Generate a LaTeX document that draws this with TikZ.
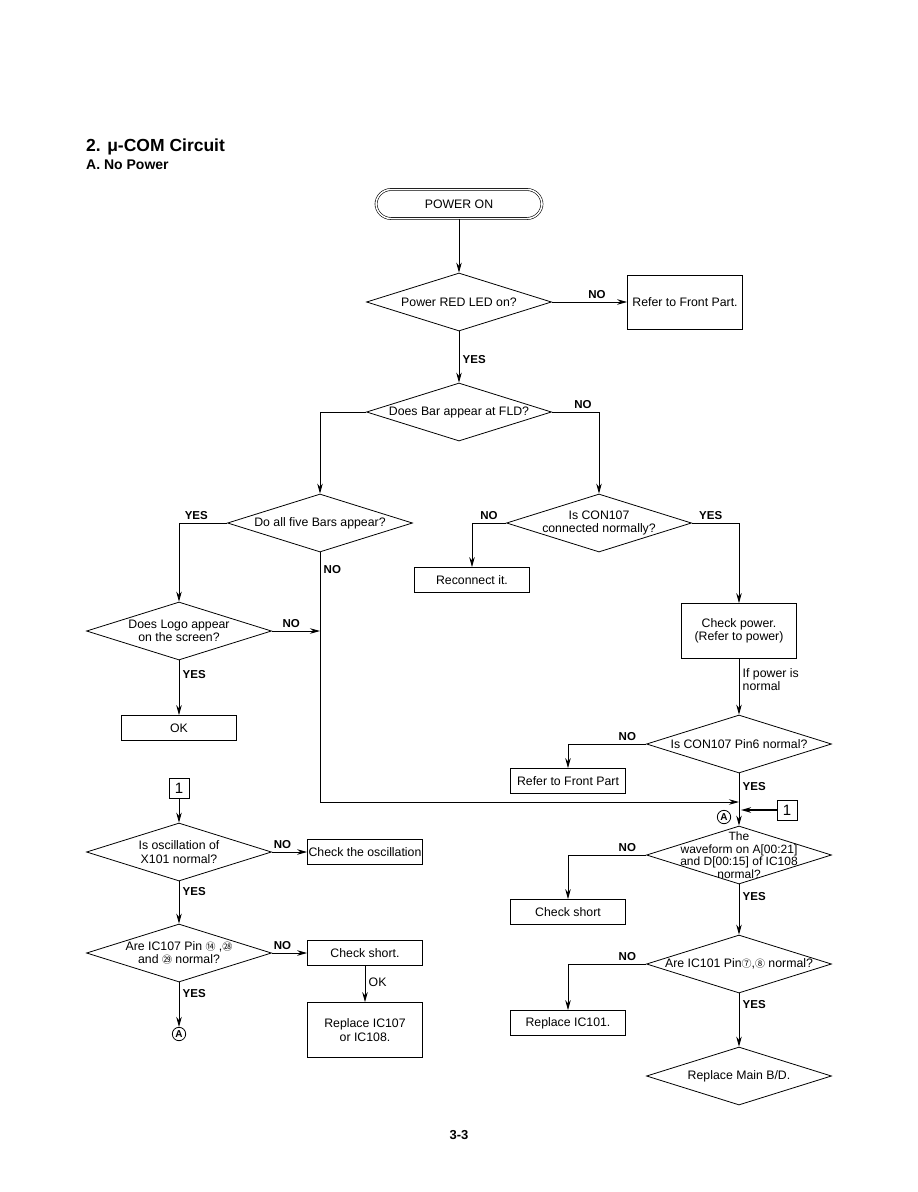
\documentclass[tikz,border=0pt]{standalone}
\usepackage{fontspec}
\setmainfont{Liberation Sans}
\newfontfamily\cjk{Noto Sans CJK JP}
\usetikzlibrary{shapes.geometric,arrows.meta}
\newcommand{\cn}[1]{{\cjk\fontsize{10}{11}\selectfont #1}}
\begin{document}
\begin{tikzpicture}[x=1pt,y=-1pt,
  every node/.style={font=\fontsize{12.3}{13.5}\selectfont},
  box/.style={draw,rectangle,line width=0.8pt,inner sep=0pt,minimum width=115,minimum height=25,align=center},
  dia/.style={draw,diamond,line width=0.8pt,inner sep=0pt,minimum width=185,minimum height=58},
  lab/.style={font=\bfseries\fontsize{11.5}{13}\selectfont},
  arr/.style={-{Stealth[length=10pt,width=5.5pt]}},
  ln/.style={line width=0.8pt},
  numbox/.style={draw,rectangle,line width=1pt,minimum width=20,minimum height=20,inner sep=0pt,font=\fontsize{15}{16}\selectfont},
  circA/.style={draw,circle,line width=0.8pt,inner sep=1.2pt,font=\bfseries\fontsize{10}{11}\selectfont}]
\useasboundingbox (0,0) rectangle (918,1192);
% titles
\node[anchor=base west,font=\bfseries\fontsize{17.5}{20}\selectfont,inner sep=0] (title) at (86,151) {2. μ-COM Circuit};
\node[anchor=base west,font=\bfseries\fontsize{14}{16}\selectfont,inner sep=0] (sub) at (86,169) {A. No Power};
% top
\node[draw,rectangle,rounded corners=15pt,double,double distance=1.5pt,line width=0.6pt,minimum width=166,minimum height=29,inner sep=0] (pon) at (459,204) {POWER ON};
\node[dia,label=center:{Power RED LED on?}] (d1) at (459,302) {};
\node[box,minimum height=54] (r1) at (685,302) {Refer to Front Part.};
\node[dia,label=center:{Does Bar appear at FLD?}] (d2) at (459,412) {};
\node[dia,label=center:{Do all five Bars appear?}] (d3) at (320,523) {};
\node[dia,label={[align=center]center:{Is CON107\\connected normally?}}] (d4) at (599,523) {};
\node[box] (rc) at (472,580) {Reconnect it.};
\node[box,minimum height=55] (cp) at (739,631) {Check power.\\(Refer to power)};
\node[dia,label={[align=center]center:{Does Logo appear\\on the screen?}}] (d5) at (179,631) {};
\node[box] (ok) at (179,728) {OK};
\node[dia,label=center:{Is CON107 Pin6 normal?}] (d6) at (739,744) {};
\node[box] (rf2) at (568,781) {Refer to Front Part};
\coordinate (c1) at (320,802);
\coordinate (j) at (739,802);
\coordinate (c2) at (320,631);
\node[numbox] (one2) at (787,810) {1};
\coordinate (j2) at (741,810);
\node[circA] (A1) at (724,817) {A};
\node[dia,label={[align=center,font=\fontsize{12}{12.5}\selectfont]center:{The\\waveform on A[00:21]\\and D[00:15] of IC108\\normal?}}] (d7) at (739,855) {};
\node[box] (cs2) at (568,912) {Check short};
\node[dia,label=center:{Are IC101 Pin\cn{⑦},\cn{⑧}\ normal?}] (d8) at (739,964) {};
\node[box] (ric) at (568,1023) {Replace IC101.};
\node[dia,label=center:{Replace Main B/D.}] (d9) at (739,1076) {};
% left bottom
\node[numbox] (one1) at (179,788) {1};
\node[dia,label={[align=center]center:{Is oscillation of\\X101 normal?}}] (d10) at (179,852) {};
\node[box] (osc) at (365,852) {Check the oscillation};
\node[dia,label={[align=center]center:{Are IC107 Pin \cn{⑭} ,\cn{㉘}\\and \cn{㉙} normal?}}] (d11) at (179,953) {};
\node[box] (cs1) at (365,953) {Check short.};
\node[box,minimum height=55] (rep) at (365,1030) {Replace IC107\\or IC108.};
\node[circA] (A2) at (179,1034) {A};
\node[font=\bfseries\fontsize{13}{15}\selectfont] (pg) at (459,1135) {3-3};
% connectors
\draw[ln,arr] (pon) -- (d1);
\draw[ln,arr] (d1.east) -- node[lab,above,pos=0.6]{NO} (r1.west);
\draw[ln,arr] (d1.south) -- node[lab,right,pos=0.55]{YES} (d2.north);
\draw[ln,arr] (d2.west) -| (d3.north);
\draw[ln,arr] (d2.east) -| node[lab,above,pos=0.33]{NO} (d4.north);
\draw[ln,arr] (d3.west) -| node[lab,above,pos=0.32]{YES} (d5.north);
\draw[ln,arr] (d3.south) -- node[lab,right,pos=0.07]{NO} (c1) -- (j);
\draw[ln,arr] (d5.east) -- node[lab,above,pos=0.4]{NO} (c2);
\draw[ln,arr] (d5.south) -- node[lab,right,pos=0.25]{YES} (ok.north);
\draw[ln,arr] (d4.west) -| node[lab,above,pos=0.25]{NO} (rc.north);
\draw[ln,arr] (d4.east) -| node[lab,above,pos=0.2]{YES} (cp.north);
\draw[ln,arr] (cp.south) -- node[right,pos=0.37,align=left]{If power is\\normal} (d6.north);
\draw[ln,arr] (d6.west) -| node[lab,above,pos=0.12]{NO} (rf2.north);
\draw[ln] (d6.south) -- node[lab,right,pos=0.45]{YES} (j);
\draw[ln,arr] (j) -- (d7.north);
\draw[line width=2pt,arr] (one2.west) -- (j2);
\draw[ln,arr] (d7.west) -| node[lab,above,pos=0.12]{NO} (cs2.north);
\draw[ln,arr] (d7.south) -- node[lab,right,pos=0.25]{YES} (d8.north);
\draw[ln,arr] (d8.west) -| node[lab,above,pos=0.12]{NO} (ric.north);
\draw[ln,arr] (d8.south) -- node[lab,right,pos=0.2]{YES} (d9.north);
\draw[ln,arr] (one1.south) -- (d10.north);
\draw[ln,arr] (d10.east) -- node[lab,above,pos=0.3]{NO} (osc.west);
\draw[ln,arr] (d10.south) -- node[lab,right,pos=0.25]{YES} (d11.north);
\draw[ln,arr] (d11.east) -- node[lab,above,pos=0.3]{NO} (cs1.west);
\draw[ln,arr] (d11.south) -- node[lab,right,pos=0.25]{YES} (A2.north);
\draw[ln,arr] (cs1.south) -- node[right,pos=0.45]{OK} (rep.north);
\end{tikzpicture}
\end{document}
